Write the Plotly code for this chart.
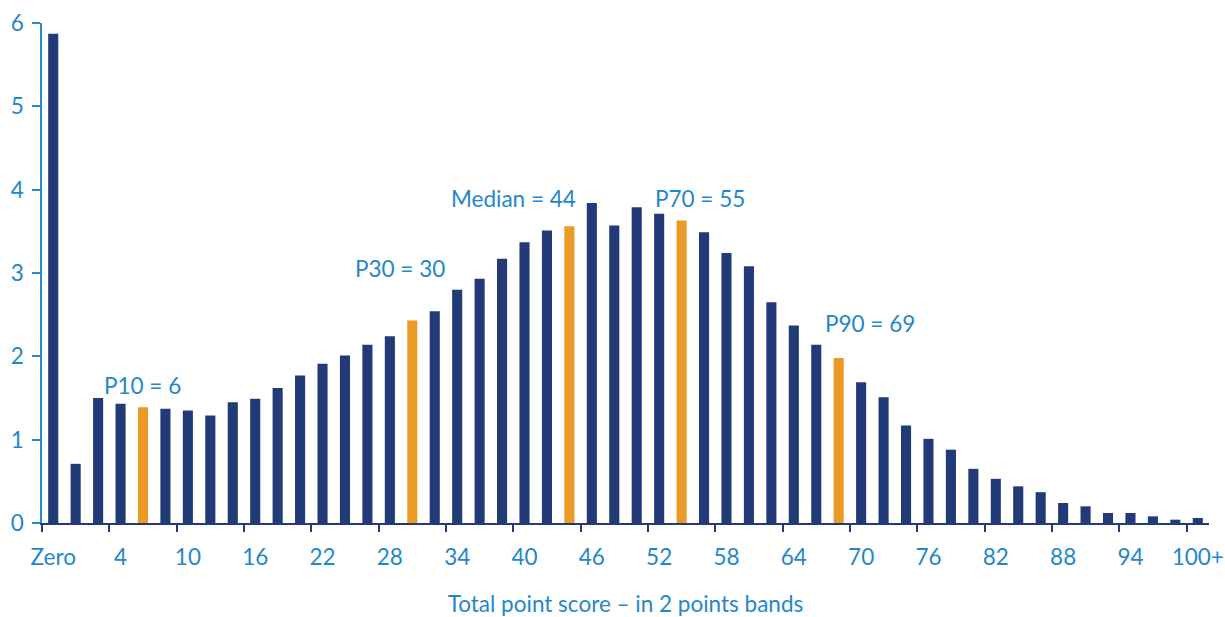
import plotly.graph_objects as go

# Categories: "Zero" then 2-point bands
categories = ["Zero", "1"] + [str(v) for v in range(2, 100, 2)] + ["100+"]
values = [5.87, 0.71, 1.50, 1.43, 1.39, 1.37, 1.35, 1.29, 1.45, 1.49,
          1.62, 1.77, 1.91, 2.01, 2.14, 2.24, 2.43, 2.54, 2.80, 2.93,
          3.17, 3.37, 3.51, 3.56, 3.84, 3.57, 3.79, 3.71, 3.63, 3.49,
          3.24, 3.08, 2.65, 2.37, 2.14, 1.98, 1.69, 1.51, 1.17, 1.01,
          0.88, 0.65, 0.53, 0.44, 0.37, 0.24, 0.20, 0.12, 0.12, 0.08,
          0.04, 0.06]
percentile_bands = ["6", "30", "44", "54", "68"]
annot_text = ["P10 = 6", "P30 = 30", "Median = 44", "P70 = 55", "P90 = 69"]
annot_x = [4.0, 15.45, 20.5, 28.8, 36.4]
annot_y = [1.65, 3.06, 3.90, 3.90, 2.40]

NAVY = "#223a77"
ORANGE = "#ea9a25"
BLUE = "#1f87cc"
FONT = "Lato"
FS = 22.5

colors = [ORANGE if c in percentile_bands else NAVY for c in categories]

fig = go.Figure()
fig.add_trace(go.Bar(
    x=list(range(len(categories))), y=values,
    marker=dict(color=colors, line=dict(width=0)),
    hoverinfo="x+y",
))

for t, ax_, ay_ in zip(annot_text, annot_x, annot_y):
    fig.add_annotation(x=ax_, y=ay_, text=t, showarrow=False,
                       font=dict(family=FONT, size=FS, color=BLUE),
                       xanchor="center", yanchor="middle")

fig.update_layout(
    width=1225, height=617,
    margin=dict(l=42, r=16, t=23, b=94, autoexpand=False),
    plot_bgcolor="white", paper_bgcolor="white",
    bargap=0.55,
    showlegend=False,
    font=dict(family=FONT, size=FS, color=BLUE),
    xaxis=dict(
        range=[-0.5, 51.5], automargin=False,
        tickmode="array",
        tickvals=list(range(0, len(categories), 3)),
        ticktext=categories[::3],
        ticks="", showline=True, linecolor=NAVY, linewidth=1.5,
        showgrid=False, zeroline=False,
        tickfont=dict(family=FONT, size=FS, color=BLUE),
        ticklabelstandoff=13,
        title=dict(text="Total point score – in 2 points bands",
                   font=dict(family=FONT, size=FS, color=BLUE), standoff=29),
    ),
    xaxis2=dict(
        overlaying="x", anchor="y", side="bottom", automargin=False,
        range=[-0.5, 51.5],
        tickmode="array",
        tickvals=[v - 0.5 for v in range(0, len(categories), 3)],
        showticklabels=False, ticks="outside", ticklen=8, tickwidth=1.5,
        tickcolor=NAVY, showline=False, showgrid=False, zeroline=False,
    ),
    yaxis=dict(
        range=[0, 6], dtick=1, tick0=0, automargin=False,
        showline=True, linecolor="#2a8ad0", linewidth=1.5,
        ticks="outside", ticklen=8, tickwidth=1.5, tickcolor="#2a8ad0",
        showgrid=False, zeroline=False,
        tickfont=dict(family=FONT, size=FS, color=BLUE),
        ticklabelstandoff=4,
    ),
)
# invisible trace to make xaxis2 render
fig.add_trace(go.Scatter(x=[0], y=[0], xaxis="x2", yaxis="y", mode="markers",
                         marker=dict(opacity=0), hoverinfo="skip"))

fig.write_html("out.html", config={"displayModeBar": False},
               post_script="document.body.style.margin='0';document.body.style.overflow='hidden';")
